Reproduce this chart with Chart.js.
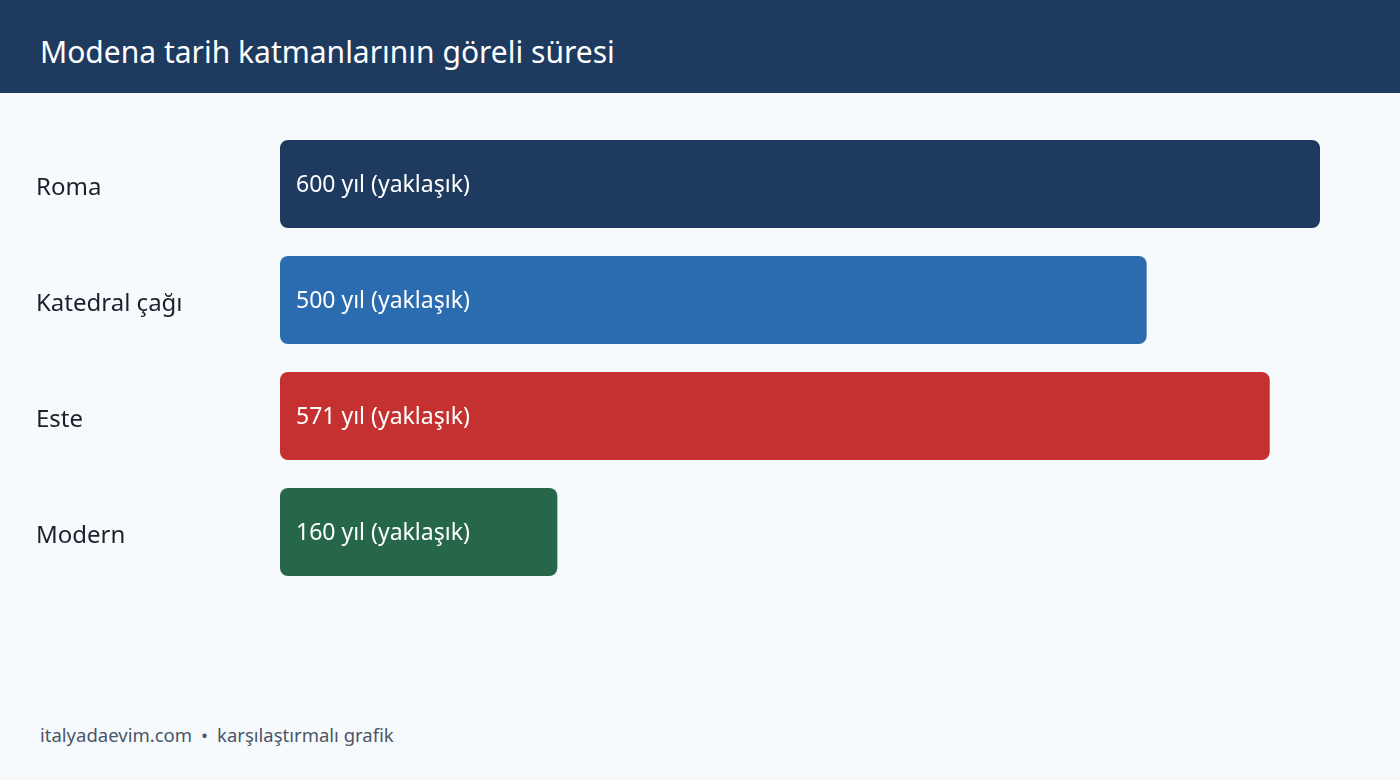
<!DOCTYPE html>
<html>
<head>
<meta charset="utf-8">
<script src="https://cdn.jsdelivr.net/npm/chart.js@4.4.1/dist/chart.umd.min.js"></script>
<style>
  html, body { margin: 0; padding: 0; }
  body { width: 1400px; height: 780px; background: #f7fafc; position: relative; overflow: hidden; font-family: "Noto Sans", sans-serif; }
  #header { position: absolute; left: 0; top: 0; width: 1400px; height: 93px; background: #1e3a5f; }
  #title { position: absolute; left: 40px; top: 32px; font-size: 30px; line-height: 40px; color: #ffffff; font-weight: 400; white-space: nowrap; }
  #wrap { position: absolute; left: 0; top: 92px; width: 1400px; height: 540px; }
  #footer { position: absolute; left: 40px; top: 722px; font-size: 18.5px; line-height: 26px; color: #4a5568; white-space: nowrap; }
  #footer .sep { margin: 0 9px; }
</style>
</head>
<body>
<div id="header"><div id="title">Modena tarih katmanlarının göreli süresi</div></div>
<div id="wrap"><canvas id="c"></canvas></div>
<div id="footer">italyadaevim.com<span class="sep">•</span>karşılaştırmalı grafik</div>
<script>
const categories = ['Roma', 'Katedral çağı', 'Este', 'Modern'];
const years = [600, 500, 571, 160];
const valueLabels = ['600 yıl (yaklaşık)', '500 yıl (yaklaşık)', '571 yıl (yaklaşık)', '160 yıl (yaklaşık)'];
const barColors = ['#1e3a5f', '#2b6cb0', '#c53030', '#276749'];
const axisMax = 600;

const insideLabels = {
  id: 'insideLabels',
  afterDatasetsDraw(chart) {
    const ctx = chart.ctx;
    const meta = chart.getDatasetMeta(0);
    ctx.save();
    ctx.font = '23px "Noto Sans", sans-serif';
    ctx.fillStyle = '#ffffff';
    ctx.textAlign = 'left';
    ctx.textBaseline = 'middle';
    meta.data.forEach((bar, i) => {
      ctx.fillText(valueLabels[i], bar.base + 16, bar.y + 1);
    });
    ctx.restore();
  }
};

new Chart(document.getElementById('c'), {
  type: 'bar',
  data: {
    labels: categories,
    datasets: [{
      data: years,
      backgroundColor: barColors,
      borderRadius: 8,
      borderSkipped: false,
      categoryPercentage: 1,
      barPercentage: 0.7586
    }]
  },
  options: {
    indexAxis: 'y',
    responsive: true,
    maintainAspectRatio: false,
    animation: false,
    layout: { padding: { left: 36, right: 80, top: 34, bottom: 42 } },
    plugins: { legend: { display: false }, tooltip: { enabled: false } },
    scales: {
      x: { display: false, min: 0, max: axisMax, grid: { display: false } },
      y: {
        grid: { display: false },
        border: { display: false },
        ticks: {
          crossAlign: 'far',
          color: '#1a202c',
          padding: 0,
          labelOffset: 4,
          font: { family: '"Noto Sans", sans-serif', size: 24 }
        },
        afterFit(scale) { scale.width = 244; }
      }
    }
  },
  plugins: [insideLabels]
});
</script>
</body>
</html>
